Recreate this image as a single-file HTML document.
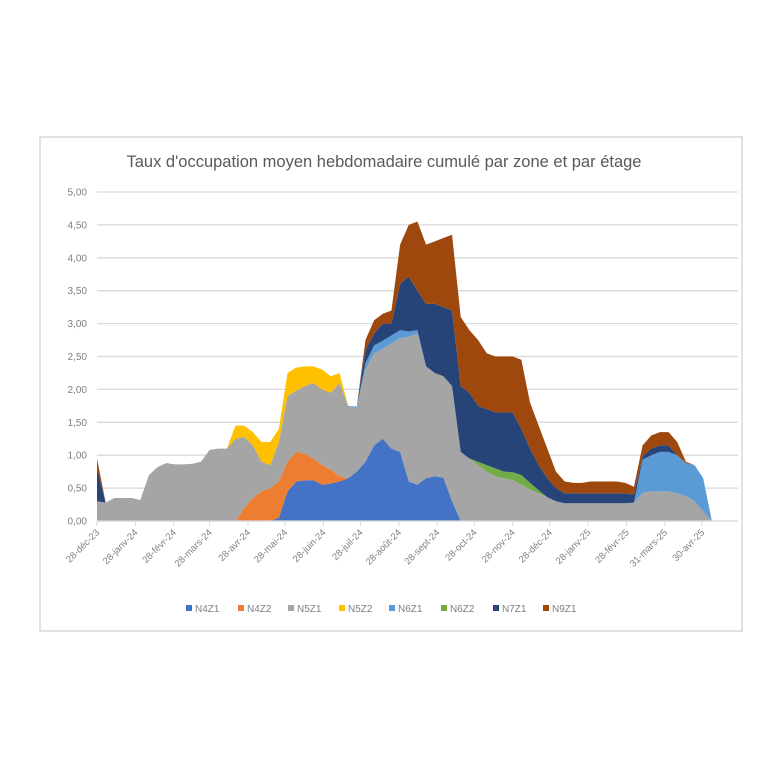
<!DOCTYPE html>
<html><head><meta charset="utf-8">
<style>
html,body{margin:0;padding:0;background:#fff;}
body{width:768px;height:768px;position:relative;overflow:hidden;font-family:"Liberation Sans",sans-serif;}
svg{position:absolute;left:0;top:0;}
</style></head>
<body>
<svg id="chart" width="768" height="768" viewBox="0 0 768 768">
  <rect x="40" y="137" width="702" height="494" fill="#fff" stroke="#d9d9d9" stroke-width="1.5"/>
  <text x="384" y="167" text-anchor="middle" font-size="16.5" fill="#595959" font-family="Liberation Sans, sans-serif">Taux d'occupation moyen hebdomadaire cumulé par zone et par étage</text>
  <g id="grid"></g>
  <g id="areas"></g>
  <g id="axes"></g>
  <g id="legend"></g>
</svg>
<script>
const seriesNames = ["N4Z1","N4Z2","N5Z1","N5Z2","N6Z1","N6Z2","N7Z1","N9Z1"];
const seriesColors = ["#4472c4","#ed7d31","#a5a5a5","#ffc000","#5b9bd5","#70ad47","#264478","#9e480e"];
const weeks = Array.from({length:72},(_,i)=>i);
const N4Z1 = [0,0,0,0,0,0,0,0,0,0,0,0,0,0,0,0,0,0,0,0,0,0.05,0.45,0.6,0.62,0.62,0.55,0.57,0.6,0.65,0.75,0.9,1.15,1.25,1.1,1.05,0.6,0.55,0.65,0.68,0.66,0.3,0,0,0,0,0,0,0,0,0,0,0,0,0,0,0,0,0,0,0,0,0,0,0,0,0,0,0,0,0,0];
const N4Z2 = [0,0,0,0,0,0,0,0,0,0,0,0,0,0,0,0,0,0.2,0.35,0.45,0.5,0.55,0.45,0.45,0.4,0.33,0.3,0.21,0.08,0,0,0,0,0,0,0,0,0,0,0,0,0,0,0,0,0,0,0,0,0,0,0,0,0,0,0,0,0,0,0,0,0,0,0,0,0,0,0,0,0,0,0];
const N5Z1 = [0.3,0.28,0.35,0.35,0.35,0.32,0.7,0.82,0.88,0.86,0.86,0.87,0.9,1.08,1.1,1.1,1.25,1.08,0.8,0.45,0.35,0.6,1.0,0.93,1.03,1.15,1.15,1.17,1.42,1.1,0.97,1.4,1.4,1.37,1.6,1.73,2.2,2.3,1.7,1.57,1.54,1.75,1.05,0.95,0.85,0.75,0.68,0.65,0.62,0.55,0.48,0.42,0.36,0.3,0.27,0.27,0.27,0.27,0.27,0.27,0.27,0.27,0.28,0.43,0.45,0.45,0.45,0.42,0.38,0.3,0.15,0];
const N5Z2 = [0,0,0,0,0,0,0,0,0,0,0,0,0,0,0,0,0.2,0.17,0.2,0.3,0.35,0.2,0.35,0.35,0.3,0.25,0.3,0.25,0.15,0,0,0,0,0,0,0,0,0,0,0,0,0,0,0,0,0,0,0,0,0,0,0,0,0,0,0,0,0,0,0,0,0,0,0,0,0,0,0,0,0,0,0];
const N6Z1 = [0,0,0,0,0,0,0,0,0,0,0,0,0,0,0,0,0,0,0,0,0,0,0,0,0,0,0,0,0,0,0.02,0.1,0.12,0.12,0.12,0.12,0.08,0.05,0,0,0,0,0,0,0,0,0,0,0,0,0,0,0,0,0,0,0,0,0,0,0,0,0,0.5,0.55,0.6,0.6,0.58,0.5,0.55,0.5,0];
const N6Z2 = [0,0,0,0,0,0,0,0,0,0,0,0,0,0,0,0,0,0,0,0,0,0,0,0,0,0,0,0,0,0,0,0,0,0,0,0,0,0,0,0,0,0,0,0,0.05,0.1,0.12,0.1,0.12,0.15,0.1,0.05,0,0,0,0,0,0,0,0,0,0,0,0,0,0,0,0,0,0,0,0];
const N7Z1 = [0.5,0,0,0,0,0,0,0,0,0,0,0,0,0,0,0,0,0,0,0,0,0,0,0,0,0,0,0,0,0,0,0.2,0.18,0.26,0.18,0.7,0.84,0.6,0.95,1.05,1.05,1.15,1.0,1.0,0.85,0.85,0.85,0.9,0.91,0.7,0.52,0.38,0.29,0.2,0.15,0.15,0.15,0.15,0.15,0.15,0.15,0.15,0.12,0.05,0.1,0.1,0.1,0,0,0,0,0];
const N9Z1 = [0.15,0,0,0,0,0,0,0,0,0,0,0,0,0,0,0,0,0,0,0,0,0,0,0,0,0,0,0,0,0,0,0.15,0.2,0.15,0.2,0.6,0.78,1.05,0.9,0.95,1.05,1.15,1.05,0.95,1.0,0.85,0.85,0.85,0.85,1.05,0.7,0.6,0.45,0.25,0.18,0.16,0.16,0.18,0.18,0.18,0.18,0.16,0.12,0.17,0.2,0.2,0.2,0.2,0.02,0,0,0];
const yTicks = [0,0.5,1,1.5,2,2.5,3,3.5,4,4.5,5];
const tickLabels = ["28-déc-23","28-janv-24","28-févr-24","28-mars-24","28-avr-24","28-mai-24","28-juin-24","28-juil-24","28-août-24","28-sept-24","28-oct-24","28-nov-24","28-déc-24","28-janv-25","28-févr-25","31-mars-25","30-avr-25"];
const tickDays = [0,31,62,91,122,152,183,213,244,275,305,336,366,397,428,459,489];

const NS="http://www.w3.org/2000/svg";
const X0=97, DX=8.66, Y0=521, YS=65.8, XEND=738;
function xs(i){return X0+DX*i;}
function ys(v){return Y0-v*YS;}
function mk(tag,attrs,parent){const e=document.createElementNS(NS,tag);for(const k in attrs)e.setAttribute(k,attrs[k]);parent.appendChild(e);return e;}
const grid=document.getElementById('grid'),areas=document.getElementById('areas'),axes=document.getElementById('axes'),legend=document.getElementById('legend');
const fmt=v=>v.toFixed(2).replace('.',',');
yTicks.forEach(v=>{
  const l=mk('line',{x1:X0,x2:XEND,y1:ys(v),y2:ys(v),stroke:'#d9d9d9','stroke-width':1.3},grid);
  
  
  const t=mk('text',{x:X0-10,y:ys(v)+3.5,'text-anchor':'end','font-size':10,fill:'#7f7f7f'},axes);
  t.textContent=fmt(v);
  
  
});
const data=[N4Z1,N4Z2,N5Z1,N5Z2,N6Z1,N6Z2,N7Z1,N9Z1];
let base=weeks.map(()=>0);
data.forEach((s,k)=>{
  const top=base.map((b,i)=>b+s[i]);
  let d='M'+weeks.map(i=>xs(i)+','+ys(top[i])).join(' L');
  for(let i=weeks.length-1;i>=0;i--) d+=' L'+xs(i)+','+ys(base[i]);
  d+=' Z';
  const p=mk('path',{d:d,fill:seriesColors[k],stroke:'none'},areas);
  
  
  base=top;
});
const ax=mk('line',{x1:X0,x2:XEND,y1:Y0,y2:Y0,stroke:'#d9d9d9','stroke-width':1.3},axes);


tickDays.forEach((d,k)=>{
  const x=xs(d/7);
  const tk=mk('line',{x1:x,x2:x,y1:Y0,y2:Y0+5,stroke:'#d9d9d9'},axes);
  
  
  const t=mk('text',{x:x+3,y:Y0+12,'text-anchor':'end','font-size':9.5,fill:'#7f7f7f',transform:'rotate(-45 '+(x+3)+' '+(Y0+12)+')'},axes);
  t.textContent=tickLabels[k];
  
  
});
const legX=[186,238,288,339,389,441,493,543];
seriesNames.forEach((n,k)=>{
  const g=mk('g',{},legend);
  
  
  mk('rect',{x:legX[k],y:605,width:6,height:6,fill:seriesColors[k]},g);
  const t=mk('text',{x:legX[k]+9,y:612,'font-size':10,fill:'#7f7f7f'},g);
  t.textContent=n;
});
</script>
</body></html>
